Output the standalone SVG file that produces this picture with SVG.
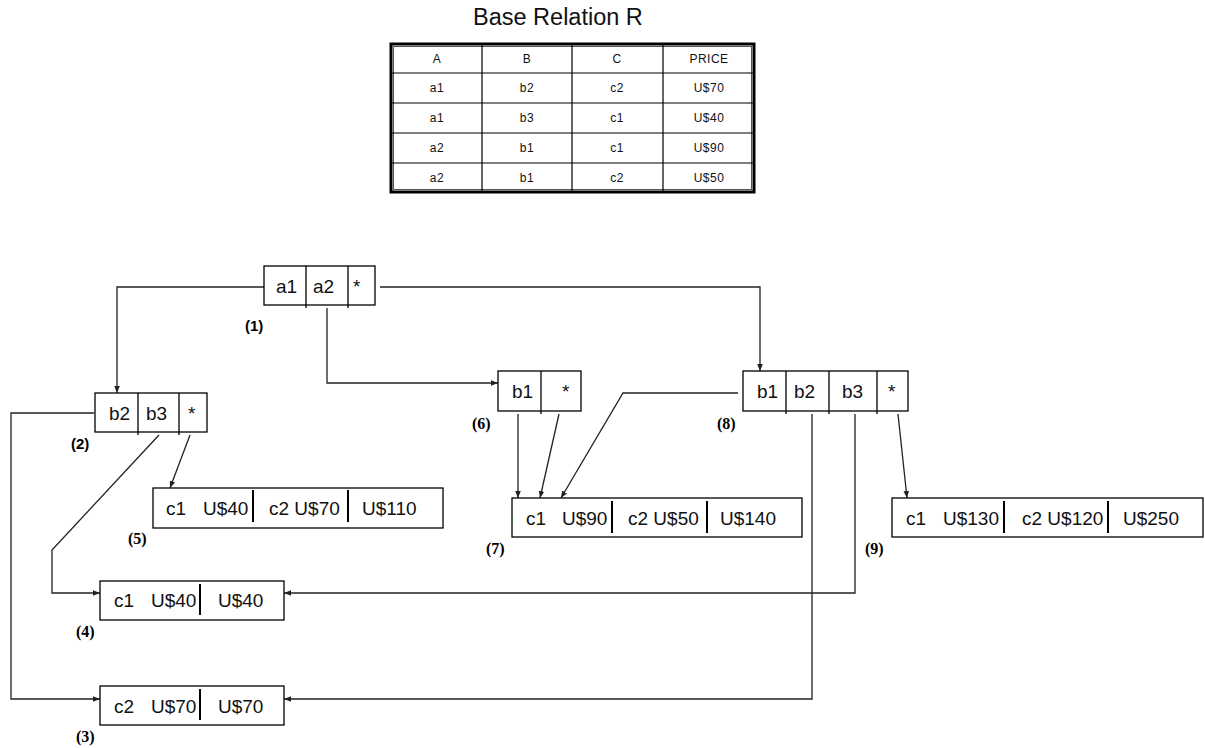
<svg xmlns="http://www.w3.org/2000/svg" width="1205" height="748" viewBox="0 0 1205 748">
<style>
.bg{fill:#ffffff}
.box{fill:#ffffff;stroke:#000;stroke-width:1.3}
.div{stroke:#000;stroke-width:1.3;fill:none}
.divw{stroke:#000;stroke-width:2;fill:none}
.t{font-family:"Liberation Sans",Arial,sans-serif;font-size:19px;fill:#111}
.title{font-family:"Liberation Sans",Arial,sans-serif;font-size:23.5px;fill:#111}
.tt{font-family:"Liberation Sans",Arial,sans-serif;font-size:12px;fill:#111;text-anchor:middle;letter-spacing:0.5px}
.lbs{font-family:"Liberation Sans",Arial,sans-serif;font-size:15px;font-weight:bold;fill:#000}
.lbr{font-family:"Liberation Serif","Times New Roman",serif;font-size:16px;font-weight:bold;fill:#000}
.c{fill:none;stroke:#222;stroke-width:1.3;marker-end:url(#ah)}
.grid{stroke:#000;stroke-width:1.2;fill:none}
</style>
<defs>
<marker id="ah" viewBox="0 0 10 10" refX="10" refY="5" markerWidth="7" markerHeight="7" markerUnits="userSpaceOnUse" orient="auto">
<path d="M0,1 L10,5 L0,9 z" fill="#222"/>
</marker>
</defs>
<rect class="bg" x="0" y="0" width="1205" height="748"/>

<text class="title" x="473" y="25">Base Relation R</text>

<g id="table">
<rect x="391" y="44" width="363" height="148" fill="#fff" stroke="#000" stroke-width="3"/>
<rect x="393.5" y="46.5" width="358" height="143" fill="none" stroke="#555" stroke-width="1"/>
<path class="grid" d="M482,44 V192 M572,44 V192 M663,44 V192 M391,73 H754 M391,103 H754 M391,133 H754 M391,163 H754"/>
<text class="tt" x="437" y="63">A</text>
<text class="tt" x="527" y="63">B</text>
<text class="tt" x="617" y="63">C</text>
<text class="tt" x="709" y="63">PRICE</text>
<text class="tt" x="437" y="92">a1</text>
<text class="tt" x="527" y="92">b2</text>
<text class="tt" x="617" y="92">c2</text>
<text class="tt" x="709" y="92">U$70</text>
<text class="tt" x="437" y="122">a1</text>
<text class="tt" x="527" y="122">b3</text>
<text class="tt" x="617" y="122">c1</text>
<text class="tt" x="709" y="122">U$40</text>
<text class="tt" x="437" y="152">a2</text>
<text class="tt" x="527" y="152">b1</text>
<text class="tt" x="617" y="152">c1</text>
<text class="tt" x="709" y="152">U$90</text>
<text class="tt" x="437" y="182">a2</text>
<text class="tt" x="527" y="182">b1</text>
<text class="tt" x="617" y="182">c2</text>
<text class="tt" x="709" y="182">U$50</text>
</g>

<g id="connectors">
<path class="c" d="M264,287 H117 V393"/>
<path class="c" d="M327,308 V383 H498"/>
<path class="c" d="M380,287 H760 V371"/>
<path class="c" d="M94,413 H11 V699 H100"/>
<path class="c" d="M159,435 L52,550 V593 H100"/>
<path class="c" d="M190,435 L170,488"/>
<path class="c" d="M518,414 V498"/>
<path class="c" d="M559,414 L540,498"/>
<path class="c" d="M738,393 H623 L561,498"/>
<path class="c" d="M812,414 V699 H284"/>
<path class="c" d="M855,414 V593 H284"/>
<path class="c" d="M898,414 L907,498"/>
</g>

<g id="node1">
<rect class="box" x="264" y="266" width="111" height="39"/>
<path class="div" d="M306,266 V308 M348,266 V308"/>
<text class="t" x="276" y="293">a1</text>
<text class="t" x="313" y="293">a2</text>
<text class="t" x="353" y="293">*</text>
<text class="lbs" x="245" y="331">(1)</text>
</g>

<g id="node2">
<rect class="box" x="95" y="393" width="112" height="39"/>
<path class="div" d="M138,393 V435 M179,393 V435"/>
<text class="t" x="109" y="420">b2</text>
<text class="t" x="146" y="420">b3</text>
<text class="t" x="188" y="420">*</text>
<text class="lbs" x="71" y="449">(2)</text>
</g>

<g id="node3">
<rect class="box" x="100" y="686" width="184" height="39"/>
<path class="divw" d="M200,689 V720"/>
<text class="t" x="114" y="713">c2</text>
<text class="t" x="151" y="713">U$70</text>
<text class="t" x="218" y="713">U$70</text>
<text class="lbr" x="76" y="742">(3)</text>
</g>

<g id="node4">
<rect class="box" x="100" y="581" width="184" height="39"/>
<path class="divw" d="M200,584 V615"/>
<text class="t" x="114" y="607">c1</text>
<text class="t" x="151" y="607">U$40</text>
<text class="t" x="218" y="607">U$40</text>
<text class="lbr" x="76" y="637">(4)</text>
</g>

<g id="node5">
<rect class="box" x="153" y="488" width="290" height="40"/>
<path class="divw" d="M253,490 V522 M348,490 V522"/>
<text class="t" x="166" y="515">c1</text>
<text class="t" x="203" y="515">U$40</text>
<text class="t" x="269" y="515">c2 U$70</text>
<text class="t" x="362" y="515">U$110</text>
<text class="lbr" x="128" y="544">(5)</text>
</g>

<g id="node6">
<rect class="box" x="498" y="371" width="83" height="40"/>
<path class="div" d="M541,371 V414"/>
<text class="t" x="512" y="398">b1</text>
<text class="t" x="562" y="398">*</text>
<text class="lbr" x="472" y="429">(6)</text>
</g>

<g id="node7">
<rect class="box" x="512" y="498" width="290" height="39"/>
<path class="divw" d="M612,501 V533 M707,501 V533"/>
<text class="t" x="526" y="525">c1</text>
<text class="t" x="562" y="525">U$90</text>
<text class="t" x="628" y="525">c2 U$50</text>
<text class="t" x="720" y="525">U$140</text>
<text class="lbr" x="486" y="554">(7)</text>
</g>

<g id="node8">
<rect class="box" x="743" y="371" width="165" height="40"/>
<path class="div" d="M786,371 V414 M829,371 V414 M877,371 V414"/>
<text class="t" x="757" y="398">b1</text>
<text class="t" x="794" y="398">b2</text>
<text class="t" x="842" y="398">b3</text>
<text class="t" x="888" y="398">*</text>
<text class="lbr" x="717" y="429">(8)</text>
</g>

<g id="node9">
<rect class="box" x="892" y="498" width="311" height="39"/>
<path class="divw" d="M1004,501 V533 M1108,501 V533"/>
<text class="t" x="906" y="525">c1</text>
<text class="t" x="943" y="525">U$130</text>
<text class="t" x="1022" y="525">c2 U$120</text>
<text class="t" x="1123" y="525">U$250</text>
<text class="lbr" x="865" y="554">(9)</text>
</g>
</svg>
